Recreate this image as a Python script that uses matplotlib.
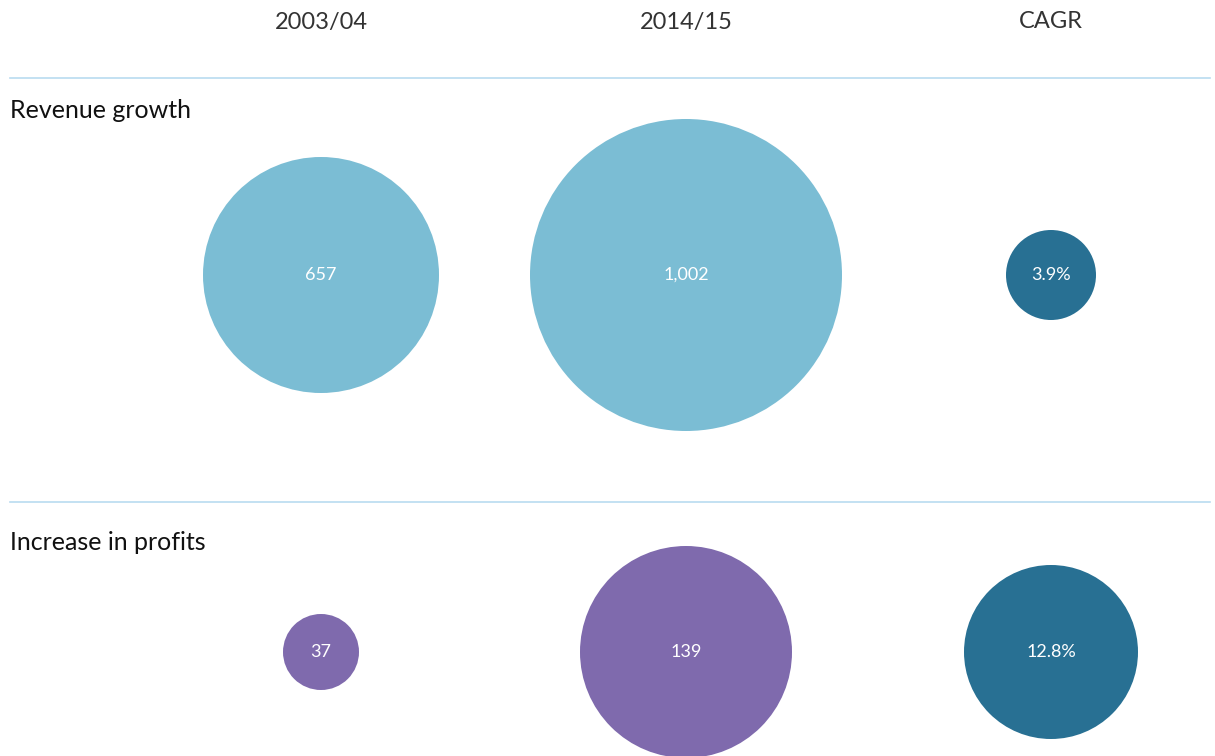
import matplotlib

matplotlib.use("Agg")
import matplotlib.pyplot as plt
import numpy as np
from matplotlib.patches import Circle

# data
columns = ["2003/04", "2014/15", "CAGR"]
rows = ["Revenue growth", "Increase in profits"]
revenue = [657, 1002]
profits = [37, 139]
cagr = [3.9, 12.8]
revenue_labels = ["657", "1,002"]
profits_labels = ["37", "139"]
cagr_labels = ["3.9%", "12.8%"]

# layout (pixels)
W, H = 1215, 756
col_x = [321, 686, 1051]
row_y = [275, 652]
rule_y = [78, 502]

LIGHT_BLUE = "#7bbdd4"
TEAL = "#287093"
PURPLE = "#7f6aad"
RULE = "#b9dbf0"

plt.rcParams["font.family"] = ["Lato", "DejaVu Sans"]


def radius_scale(values, r_range):
    # linear size scale from data domain to pixel radius
    return lambda v: np.interp(v, [min(values), max(values)], r_range)


def main():
    fig = plt.figure(figsize=(W / 100, H / 100), dpi=100)
    ax = fig.add_axes([0, 0, 1, 1])
    ax.set_xlim(0, W)
    ax.set_ylim(H, 0)
    ax.set_aspect("equal")
    ax.axis("off")

    for x, name in zip(col_x, columns):
        ax.text(x, 22, name, ha="center", va="center", fontsize=17,
                color="#333333")

    for y in rule_y:
        ax.plot([10, 1210], [y, y], color=RULE, lw=1.2)

    ax.text(10, 111, rows[0], ha="left", va="center", fontsize=18, color="#111111")
    ax.text(10, 543, rows[1], ha="left", va="center", fontsize=18, color="#111111")

    rev_r = radius_scale(revenue, [118, 156])
    prof_r = radius_scale(profits, [38, 106])
    cagr_r = radius_scale(cagr, [45, 87])

    series = [
        (revenue, revenue_labels, rev_r, LIGHT_BLUE, row_y[0]),
        (profits, profits_labels, prof_r, PURPLE, row_y[1]),
    ]
    for vals, labels, scale, color, y in series:
        for x, v, lab in zip(col_x[:2], vals, labels):
            ax.add_patch(Circle((x, y), scale(v), color=color, lw=0))
            ax.text(x, y, lab, ha="center", va="center", fontsize=13, color="white")

    for y, v, lab in zip(row_y, cagr, cagr_labels):
        ax.add_patch(Circle((col_x[2], y), cagr_r(v), color=TEAL, lw=0))
        ax.text(col_x[2], y, lab, ha="center", va="center", fontsize=13, color="white")

    fig.savefig("out.png", dpi=100)


if __name__ == "__main__":
    main()
